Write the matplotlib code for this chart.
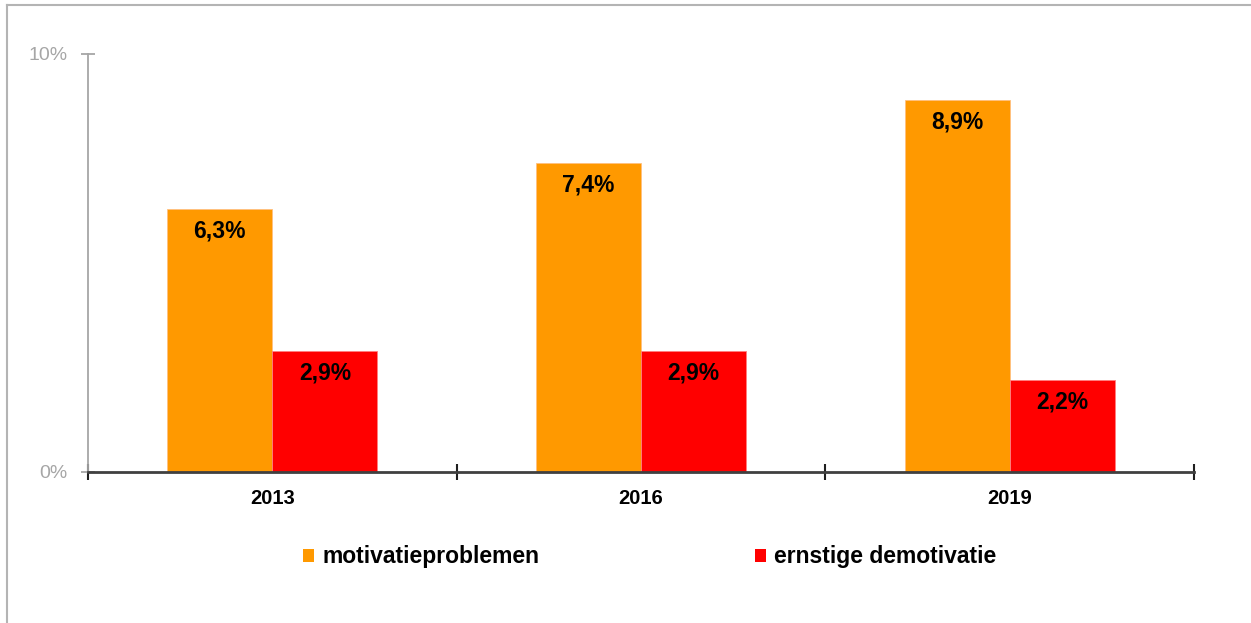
import matplotlib
matplotlib.use("Agg")
import matplotlib.pyplot as plt
from matplotlib.patches import Patch
from matplotlib.lines import Line2D
import numpy as np

years = ["2013", "2016", "2019"]
motivatieproblemen = [6.3, 7.4, 8.9]
ernstige_demotivatie = [2.9, 2.9, 2.2]
series_names = ["motivatieproblemen", "ernstige demotivatie"]
ytick_values = [0, 10]
ytick_labels = ["0%", "10%"]

plt.rcParams['font.family'] = ['Liberation Sans', 'DejaVu Sans']

W, H = 1251, 623
fig = plt.figure(figsize=(W / 100, H / 100), dpi=100)

left, right, top, bottom = 88, 1194, 54, 472
ax = fig.add_axes([left / W, (H - bottom) / H, (right - left) / W, (bottom - top) / H])

c_orange = "#FF9900"
c_red = "#FF0000"
bw = 0.285
x = np.arange(len(years)) + 0.5
b1 = ax.bar(x - bw / 2, motivatieproblemen, bw, color=c_orange, edgecolor="#FFC080", linewidth=0.6)
b2 = ax.bar(x + bw / 2, ernstige_demotivatie, bw, color=c_red, edgecolor="#FF8080", linewidth=0.6)

for bars, vals in ((b1, motivatieproblemen), (b2, ernstige_demotivatie)):
    for r, v in zip(bars, vals):
        ax.annotate(f"{v:.1f}%".replace(".", ","),
                    (r.get_x() + r.get_width() / 2, v),
                    xytext=(0, -7.5), textcoords="offset points",
                    ha="center", va="top", fontsize=16.5, fontweight="bold", color="black")

ax.set_xlim(0, 3)
ax.set_ylim(0, 10)
for s in ("top", "right"):
    ax.spines[s].set_visible(False)
ax.spines["left"].set_color("#A6A6A6")
ax.spines["left"].set_linewidth(1.3)
ax.spines["bottom"].set_color("#404040")
ax.spines["bottom"].set_linewidth(2)

ax.set_yticks(ytick_values)
ax.set_yticklabels(ytick_labels)
ax.tick_params(axis="y", direction="inout", length=10, width=1.3, color="#A6A6A6",
               labelcolor="#A6A6A6", labelsize=14, pad=10)

ax.set_xticks([0, 1, 2, 3])
ax.set_xticklabels([])
ax.tick_params(axis="x", direction="inout", length=11, width=1.5, color="#202020")
for xi, lab in zip(x, years):
    ax.annotate(lab, (xi, 0), xytext=(0, -12), textcoords="offset points",
                ha="center", va="top", fontsize=14.5, fontweight="bold", color="black",
                annotation_clip=False)

handles = [Patch(facecolor=c_orange, edgecolor="none"), Patch(facecolor=c_red, edgecolor="none")]
fig.legend(handles, series_names, loc="center left", bbox_to_anchor=(303 / W, 1 - 557 / H),
           ncol=2, frameon=False, handlelength=0.5, handleheight=0.5, handletextpad=0.35,
           columnspacing=9.4, prop={"size": 16.5, "weight": "bold"}, borderaxespad=0, borderpad=0)

# figure border (top and left)
fig.add_artist(Line2D([6.5 / W, 6.5 / W], [0, 1 - 4.5 / H], transform=fig.transFigure,
                      color="#B4B4B4", linewidth=1.5))
fig.add_artist(Line2D([6.5 / W, 1], [1 - 4.5 / H, 1 - 4.5 / H], transform=fig.transFigure,
                      color="#B4B4B4", linewidth=1.5))

fig.savefig("out.png", dpi=100)
